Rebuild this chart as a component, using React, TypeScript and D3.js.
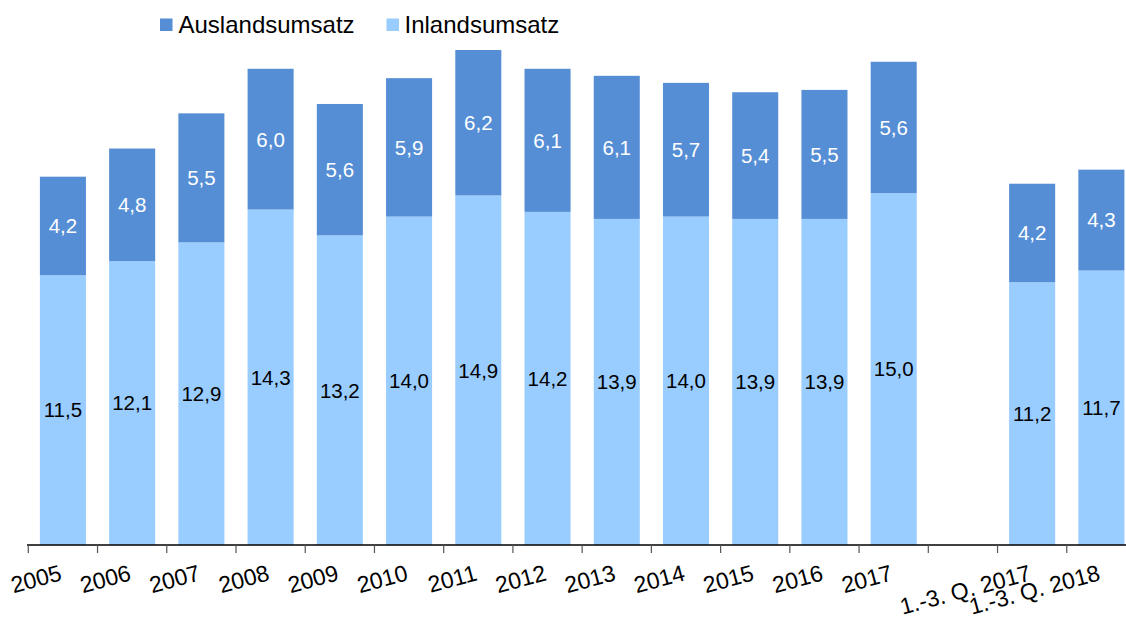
import React from "react";
import * as d3 from "d3";

const categories = ["2005","2006","2007","2008","2009","2010","2011","2012","2013","2014","2015","2016","2017","","1.-3. Q. 2017","1.-3. Q. 2018"];
const inland: (number | null)[] = [11.5,12.1,12.9,14.3,13.2,14.0,14.9,14.2,13.9,14.0,13.9,13.9,15.0,null,11.2,11.7];
const ausland: (number | null)[] = [4.2,4.8,5.5,6.0,5.6,5.9,6.2,6.1,6.1,5.7,5.4,5.5,5.6,null,4.2,4.3];
const seriesNames = ["Auslandsumsatz", "Inlandsumsatz"];

const DARK = "#558ED5";
const LIGHT = "#99CCFF";
const FONT = "'Liberation Sans', Arial, sans-serif";

export default function App() {
  const W = 1126, H = 620;
  const keys = categories.map((c, i) => `k${i}`);
  const x = d3.scaleBand<string>().domain(keys).range([28.3, 1136]).paddingInner(0.335).paddingOuter(0.1675);
  const y = d3.scaleLinear().domain([0, 22]).range([545, 28.9]);
  const step = x.step();
  const bw = x.bandwidth();
  const fmt = (v: number) => d3.format(".1f")(v).replace(".", ",");

  return (
    <svg width={W} height={H} style={{ position: "absolute", left: 0, top: 0, display: "block", background: "#fff" }} fontFamily={FONT}>
      {/* legend */}
      <g>
        <rect x={160} y={18.5} width={12.5} height={12.5} fill={DARK} />
        <text x={178.5} y={32.5} fontSize={24} fill="#000">{seriesNames[0]}</text>
        <rect x={386.5} y={18.5} width={12.5} height={12.5} fill={LIGHT} />
        <text x={404.5} y={32.5} fontSize={24} fill="#000">{seriesNames[1]}</text>
      </g>
      {/* bars */}
      {keys.map((k, i) => {
        const a = inland[i], b = ausland[i];
        if (a == null || b == null) return null;
        const x0 = x(k)!;
        const yA = y(a), yB = y(a + b);
        return (
          <g key={k}>
            <rect x={x0} y={yA} width={bw} height={y(0) - yA} fill={LIGHT} />
            <rect x={x0} y={yB} width={bw} height={yA - yB} fill={DARK} />
            <text x={x0 + bw / 2} y={(y(0) + yA) / 2} dy="0.36em" textAnchor="middle" fontSize={20.5} fill="#000">{fmt(a)}</text>
            <text x={x0 + bw / 2} y={(yA + yB) / 2} dy="0.36em" textAnchor="middle" fontSize={20.5} fill="#fff">{fmt(b)}</text>
          </g>
        );
      })}
      {/* axis */}
      <line x1={27} x2={W} y1={545} y2={545} stroke="#000" strokeWidth={1.5} />
      {keys.map((k, i) => {
        const sx = x(k)! - (step - bw) / 2;
        return <line key={"t" + k} x1={sx} x2={sx} y1={545} y2={553} stroke="#555" strokeWidth={1.2} />;
      })}
      {keys.map((k, i) => {
        const cx = x(k)! + bw / 2;
        return (
          <text key={"l" + k} transform={`translate(${cx},580) rotate(-15)`} textAnchor="end" fontSize={23} fill="#000">{categories[i]}</text>
        );
      })}
    </svg>
  );
}
